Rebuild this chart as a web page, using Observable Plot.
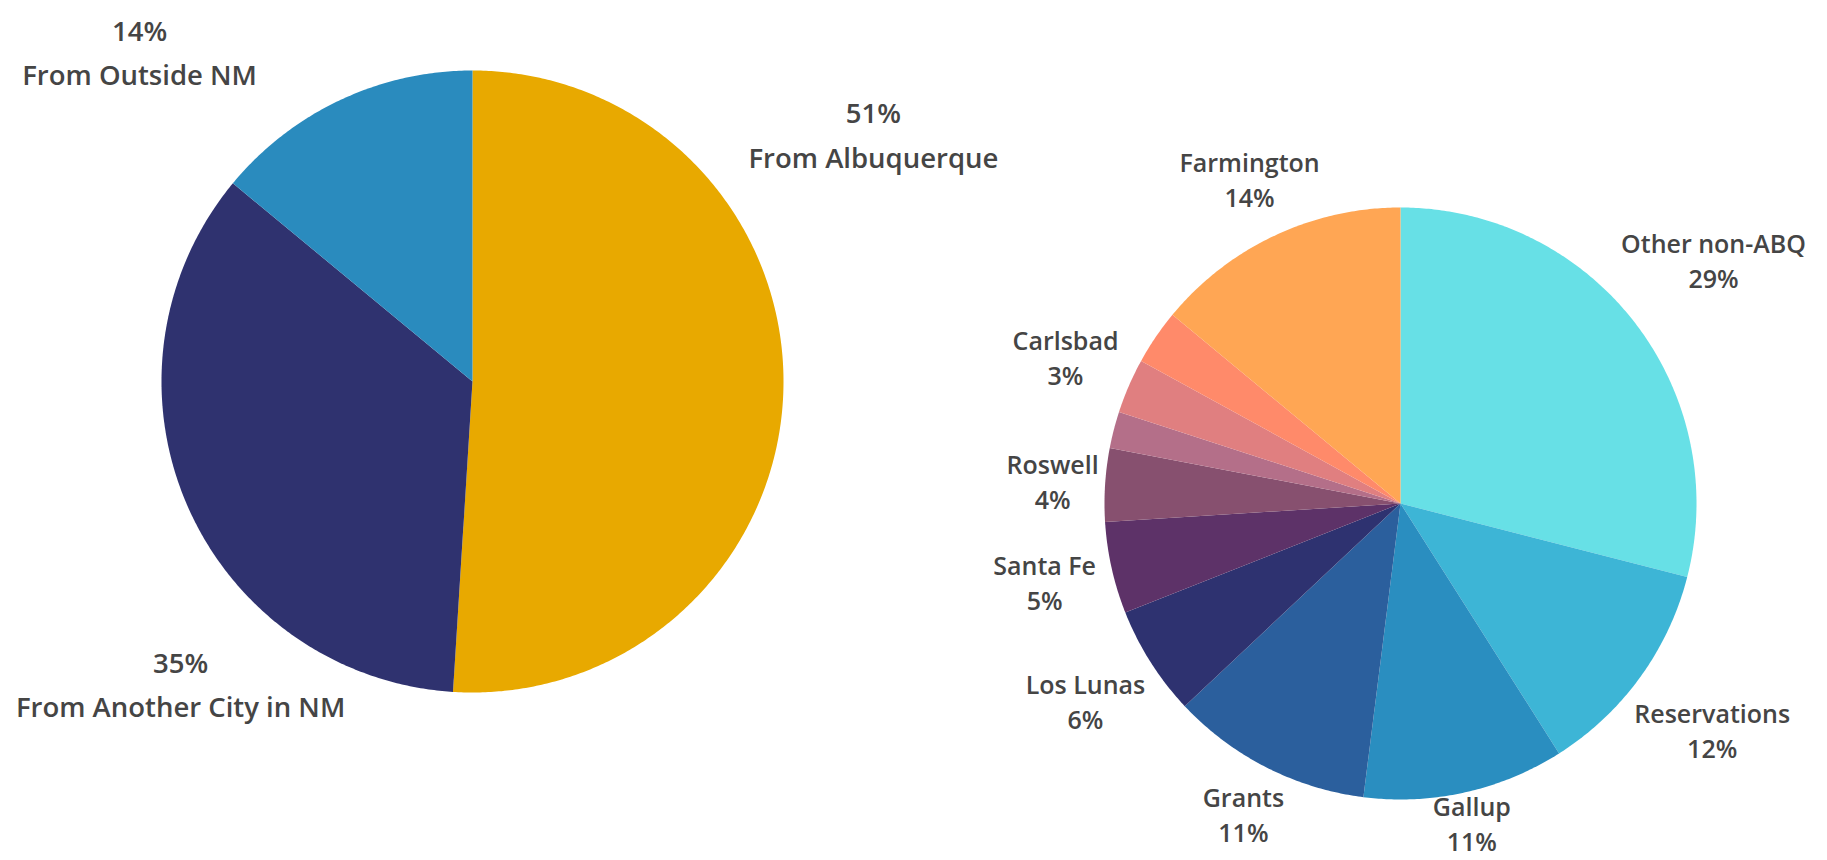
<!DOCTYPE html>
<html>
<head>
<meta charset="utf-8">
<script src="https://cdn.jsdelivr.net/npm/d3@7"></script>
<script src="https://cdn.jsdelivr.net/npm/@observablehq/plot@0.6"></script>
<style>
  body { margin: 0; background: #fff; }
  #wrap { position: relative; width: 1827px; height: 860px; overflow: hidden; background: #fff; }
  #left { position: absolute; left: 0; top: 0; }
  #right { position: absolute; left: 920px; top: 0; }
</style>
</head>
<body>
<div id="wrap"><div id="left"></div><div id="right"></div></div>
<script>
// ---------- data ----------
const originCategories = ["From Albuquerque", "From Another City in NM", "From Outside NM"];
const originValues = [51, 35, 14];
const originColors = ["#E8A900", "#2F326F", "#2A8BBE"];

const cityCategories = ["Other non-ABQ", "Reservations", "Gallup", "Grants", "Los Lunas", "Santa Fe", "Roswell", "Unlabeled A", "Unlabeled B", "Carlsbad", "Farmington"];
const cityValues = [29, 12, 11, 11, 6, 5, 4, 2, 3, 3, 14];
const cityShowLabel = [true, true, true, true, true, true, true, false, false, true, true];
const cityColors = ["#67E0E6", "#3DB5D6", "#2A8EC0", "#2B5F9D", "#2E3270", "#5D3268", "#87506F", "#B46F89", "#E07F80", "#FF8A6A", "#FFA654"];

// ---------- layout (label placement: angle clockwise from 12 o'clock, distance in pie radii) ----------
const originLabelPos = [[58, 1.52], [224.3, 1.344], [315, 1.514]];
const cityLabelPos = [[52, 1.342], [125.9, 1.30], [167.4, 1.105], [206.9, 1.173], [238, 1.255], [257.6, 1.231], [273.8, 1.178], null, null, [293.7, 1.236], [335.1, 1.211]];

// planar polar helper: angle clockwise from top (degrees), radius (pie radius = 1)
const polar = (a, r) => [r * Math.sin(a * Math.PI / 180), r * Math.cos(a * Math.PI / 180)];

function slices(categories, values) {
  const pie = d3.pie().sort(null).value((d, i) => values[i])(categories);
  return pie.map((p, i) => {
    const a0 = p.startAngle * 180 / Math.PI, a1 = p.endAngle * 180 / Math.PI;
    const n = Math.max(2, Math.ceil((a1 - a0) * 2));
    const ring = [[0, 0]];
    for (let k = 0; k <= n; k++) ring.push(polar(a0 + (a1 - a0) * k / n, 1));
    ring.push([0, 0]);
    return {type: "Feature", properties: {name: categories[i], value: values[i]}, geometry: {type: "Polygon", coordinates: [ring]}};
  });
}

function labels(categories, values, pos, fmt, show) {
  return categories.map((c, i) => {
    if (!pos[i] || (show && !show[i])) return null;
    const [x, y] = polar(pos[i][0], pos[i][1]);
    return {x, y, text: fmt(c, values[i])};
  }).filter(d => d);
}

function piePlot({features, categories, colors, labelData, width, height, margins, fontSize, lineHeight}) {
  return Plot.plot({
    width, height, ...margins,
    style: {fontFamily: "'Open Sans', sans-serif", background: "transparent", overflow: "visible"},
    projection: {type: "reflect-y", domain: {type: "FeatureCollection", features}, clip: false},
    color: {type: "ordinal", domain: categories, range: colors},
    marks: [
      Plot.geo(features, {fill: d => d.properties.name}),
      Plot.text(labelData, {x: "x", y: "y", text: "text", fontSize, lineHeight, fill: "#454545", fontWeight: 600, fontFamily: "'Open Sans', sans-serif"})
    ]
  });
}

document.getElementById("left").append(piePlot({
  features: slices(originCategories, originValues),
  categories: originCategories, colors: originColors,
  labelData: labels(originCategories, originValues, originLabelPos, (c, v) => `${v}%\n${c}`),
  width: 920, height: 860,
  margins: {marginLeft: 161, marginTop: 70, marginRight: 137, marginBottom: 168},
  fontSize: 27.5, lineHeight: 1.62
}));

document.getElementById("right").append(piePlot({
  features: slices(cityCategories, cityValues),
  categories: cityCategories, colors: cityColors,
  labelData: labels(cityCategories, cityValues, cityLabelPos, (c, v) => `${c}\n${v}%`, cityShowLabel),
  width: 907, height: 860,
  margins: {marginLeft: 184, marginTop: 207, marginRight: 131, marginBottom: 61},
  fontSize: 25, lineHeight: 1.4
}));
</script>
</body>
</html>
